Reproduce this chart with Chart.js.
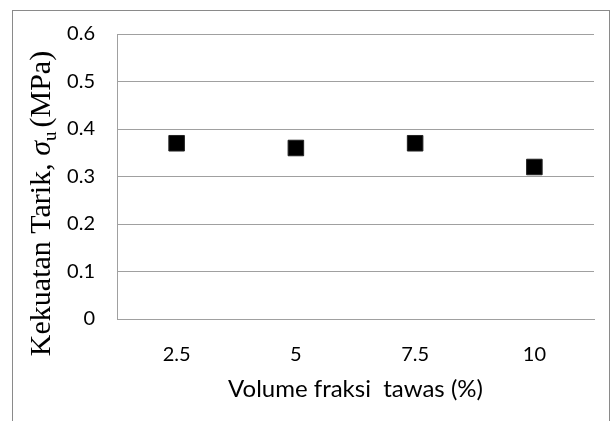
<!DOCTYPE html>
<html>
<head>
<meta charset="utf-8">
<script src="https://cdn.jsdelivr.net/npm/chart.js@4.4.1/dist/chart.umd.min.js"></script>
<style>
  html, body { margin: 0; padding: 0; background: #ffffff; }
  #wrap { width: 610px; height: 421px; position: relative; }
</style>
</head>
<body>
<div id="wrap"><canvas id="c" width="610" height="421"></canvas></div>
<script>
// ---- data ----
const categories = ['2.5', '5', '7.5', '10'];
const strengthValues = [0.37, 0.36, 0.37, 0.32];
const yMin = 0;
const yMax = 0.6;
const yStep = 0.1;
const xTitle = 'Volume fraksi  tawas (%)';
const yTitleParts = ['Kekuatan Tarik, ', 'σ', 'u', '(MPa)'];

const tickFont = { family: 'Lato, "Open Sans", sans-serif', size: 20 };

const frame = {
  id: 'frame',
  beforeDraw(chart) {
    const ctx = chart.ctx;
    ctx.save();
    ctx.fillStyle = '#ffffff';
    ctx.fillRect(0, 0, chart.width, chart.height);
    ctx.strokeStyle = '#8a8a8a';
    ctx.lineWidth = 1;
    ctx.strokeRect(12.5, 10.5, 597, 430);
    ctx.restore();
  }
};

const yTitlePlugin = {
  id: 'yTitle',
  afterDraw(chart) {
    const ctx = chart.ctx;
    const main = '30px "Liberation Serif", "Times New Roman", serif';
    const ital = 'italic 30px "Liberation Serif", "Times New Roman", serif';
    const sub = '19px "Liberation Serif", "Times New Roman", serif';
    ctx.save();
    ctx.fillStyle = '#000000';
    ctx.font = main; const w0 = ctx.measureText(yTitleParts[0]).width;
    ctx.font = ital; const w1 = ctx.measureText(yTitleParts[1]).width;
    ctx.font = sub; const w2 = ctx.measureText(yTitleParts[2]).width;
    ctx.font = main; const w3 = ctx.measureText(yTitleParts[3]).width;
    const total = w0 + w1 + w2 + 4 + w3;
    const cy = 203.5;
    const baseX = 50;
    ctx.translate(baseX, cy);
    ctx.rotate(-Math.PI / 2);
    ctx.textBaseline = 'alphabetic';
    ctx.textAlign = 'left';
    let x = -total / 2;
    ctx.font = main; ctx.fillText(yTitleParts[0], x, 0); x += w0;
    ctx.font = ital; ctx.fillText(yTitleParts[1], x, 0); x += w1;
    ctx.font = sub; ctx.fillText(yTitleParts[2], x, 6); x += w2 + 4;
    ctx.font = main; ctx.fillText(yTitleParts[3], x, 0);
    ctx.restore();
  }
};

new Chart(document.getElementById('c'), {
  type: 'line',
  data: {
    labels: categories,
    datasets: [{
      data: strengthValues,
      showLine: false,
      pointStyle: 'rect',
      pointRadius: 11,
      pointHoverRadius: 11,
      pointBackgroundColor: '#000000',
      pointBorderColor: '#222222',
      pointBorderWidth: 1
    }]
  },
  options: {
    responsive: false,
    animation: false,
    devicePixelRatio: 1,
    layout: { padding: { top: 34, right: 16, left: 0, bottom: 0 } },
    plugins: { legend: { display: false }, tooltip: { enabled: false } },
    scales: {
      x: {
        offset: true,
        grid: { display: false, drawTicks: false },
        border: { display: true, color: '#a0a0a0', width: 1 },
        ticks: { color: '#000000', font: tickFont, padding: 24, maxRotation: 0 },
        title: { display: true, text: xTitle, color: '#000000', font: { family: 'Lato, "Open Sans", sans-serif', size: 24 }, padding: { top: 0, bottom: 17 } },
        afterFit(scale) { scale.height = 102; }
      },
      y: {
        min: yMin,
        max: yMax,
        ticks: {
          stepSize: yStep,
          color: '#000000',
          font: tickFont,
          padding: 22,
          callback: (v) => String(Number(v.toFixed(1)))
        },
        grid: { color: '#a0a0a0', lineWidth: 1, drawTicks: false },
        border: { display: true, color: '#a0a0a0', width: 1 },
        afterFit(scale) { scale.width = 117; }
      }
    }
  },
  plugins: [frame, yTitlePlugin]
});
</script>
</body>
</html>
